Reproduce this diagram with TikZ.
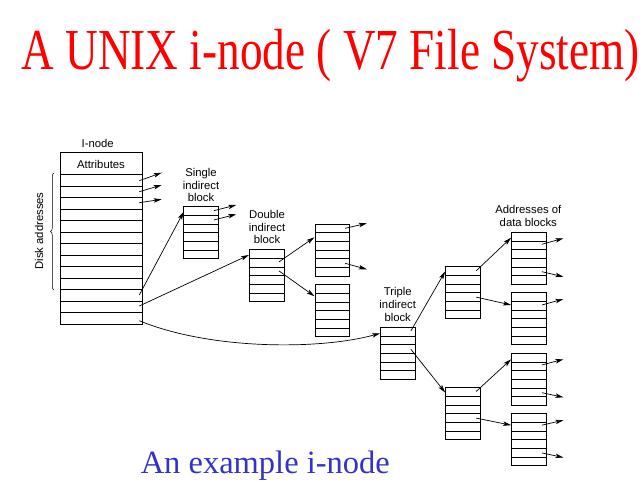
\documentclass[tikz,border=0pt]{standalone}
\usepackage{fontspec}
\setmainfont{Liberation Serif}
\newfontfamily\helv{Liberation Sans}
\usetikzlibrary{calc,arrows.meta,decorations.pathreplacing}
\definecolor{titlered}{RGB}{255,0,0}
\definecolor{subblue}{RGB}{51,51,204}
\newcommand\blockrows[1]{%
  \foreach \i in {1,...,5}{%
    \draw[rowline] ($(#1.north west)!\i/6!(#1.south west)$) -- ($(#1.north east)!\i/6!(#1.south east)$);}}
\begin{document}
\begin{tikzpicture}[x=1pt,y=-1pt,
  every node/.style={inner sep=0pt,outer sep=0pt},
  blk/.style={draw,line width=0.8pt,minimum width=34.5pt,minimum height=52pt},
  rowline/.style={line width=0.6pt},
  arr/.style={line width=0.7pt,-{Stealth[length=8pt,width=4.4pt,inset=1.8pt]}},
  lbl/.style={font=\helv\fontsize{11.3}{12.8}\selectfont,align=center}]
\useasboundingbox (0,0) rectangle (643,502);
% titles
\node[anchor=base,text=titlered,font=\fontsize{58}{60}\selectfont] (title) at (330.7,70) {\scalebox{0.78}[1]{A UNIX i-node ( V7 File System)}};
\node[anchor=base,text=subblue,font=\fontsize{32.5}{34}\selectfont] (sub) at (265.3,474) {An example i-node};
% i-node
\node[draw,line width=0.8pt,minimum width=82pt,minimum height=171.6pt] (inode) at (101,238.5) {};
\foreach \k in {0,...,12}{\draw[rowline] ($(inode.north west)+(0,22+\k*11.5)$) -- ($(inode.north east)+(0,22+\k*11.5)$);}
\node[lbl] (inodelbl) at (97.7,143.3) {I-node};
\node[lbl] (attr) at (101,164) {Attributes};
\draw[line width=0.5pt,decorate,decoration={brace,amplitude=3.5pt}] (54,290) -- (54,173);
\node[lbl,rotate=90] (disk) at (39,231) {Disk addresses};
% blocks
\node[blk] (single) at (201,232.7) {};
\node[blk] (double) at (266.7,275.5) {};
\node[blk] (dup) at (332.2,250) {};
\node[blk] (dlo) at (332.2,310.5) {};
\node[blk] (triple) at (397.9,353.3) {};
\node[blk] (tup) at (462.9,292.5) {};
\node[blk] (tlo) at (462.9,413.5) {};
\node[blk] (ta) at (528.9,258.3) {};
\node[blk] (tb) at (528.9,318.7) {};
\node[blk] (tc) at (528.9,379.3) {};
\node[blk] (td) at (528.9,439.5) {};
\foreach \b in {single,double,dup,dlo,triple,tup,tlo,ta,tb,tc,td}{\blockrows{\b}}
% labels
\node[lbl] (singlelbl) at (201,185) {Single\\indirect\\block};
\node[lbl] (doublelbl) at (267,227) {Double\\indirect\\block};
\node[lbl] (triplelbl) at (397.7,304.7) {Triple\\indirect\\block};
\node[lbl] (datalbl) at (528.3,216) {Addresses of\\data blocks};
% i-node arrows
\draw[arr] ($(inode.north east)+(-2.7,28)$) -- ++(22.4,-8);
\draw[arr] ($(inode.north east)+(-2.7,39)$) -- ++(22.4,-6.7);
\draw[arr] ($(inode.north east)+(-2.7,50)$) -- ++(22.4,-3.4);
\draw[arr] ($(inode.north east)+(-2.7,142.3)$) -- ($(single.north west)+(0,5)$);
\draw[arr] ($(inode.north east)+(-2.7,153.3)$) -- ($(double.north west)+(-0.5,5.5)$);
\draw[arr] ($(inode.north east)+(-2.7,168)$) .. controls (210,350) and (320,350) .. ($(triple.north west)+(-0.5,6)$);
% single
\draw[arr] ($(single.north east)+(-4.4,4)$) -- ++(22.4,-5.7);
\draw[arr] ($(single.north east)+(-4.4,13.3)$) -- ++(22.4,-5.7);
% double
\draw[arr] ($(double.north east)+(-5,12.4)$) -- ($(dup.north west)+(-0.5,13.3)$);
\draw[arr] ($(double.north east)+(-5,21.4)$) -- ($(dlo.north west)+(-0.5,11.7)$);
\draw[arr] ($(dup.north east)+(-4.3,4.3)$) -- ++(21.7,-5);
\draw[arr] ($(dup.north east)+(-4.3,39.3)$) -- ++(21.7,6);
% triple
\draw[arr] ($(triple.north east)+(-4.3,3.7)$) -- ($(tup.north west)+(-0.5,5)$);
\draw[arr] ($(triple.north east)+(-4.3,22)$) -- ($(tlo.north west)+(-0.5,5)$);
\draw[arr] ($(tup.north east)+(-4,4.3)$) -- ($(ta.north west)+(-0.5,5.4)$);
\draw[arr] ($(tup.north east)+(-4,30.6)$) -- ($(tb.north west)+(-0.5,12.3)$);
\draw[arr] ($(tlo.north east)+(-4,4)$) -- ($(tc.north west)+(-0.5,6)$);
\draw[arr] ($(tlo.north east)+(-4,30.6)$) -- ($(td.north west)+(-0.5,11.7)$);
% data block addresses
\draw[arr] ($(ta.north east)+(-4.3,12)$) -- ++(21.6,-6);
\draw[arr] ($(ta.north east)+(-4.3,39.4)$) -- ++(21.6,5);
\draw[arr] ($(tb.north east)+(-4.3,12.3)$) -- ++(21.6,-6);
\draw[arr] ($(tc.north east)+(-4.3,11.7)$) -- ++(21.6,-5.7);
\draw[arr] ($(tc.north east)+(-4.3,39.4)$) -- ++(21.6,4.6);
\draw[arr] ($(td.north east)+(-4.3,11.7)$) -- ++(21.6,-5);
\draw[arr] ($(td.north east)+(-4.3,39.4)$) -- ++(21.6,4.6);
\end{tikzpicture}
\end{document}
